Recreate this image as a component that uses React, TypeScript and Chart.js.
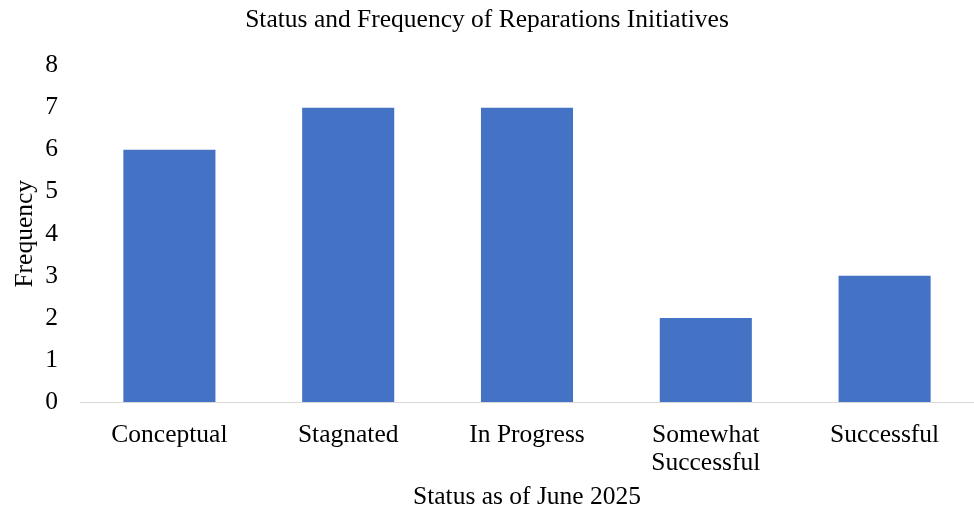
import React, { useEffect, useRef } from "react";
import { Chart, registerables } from "chart.js";

Chart.register(...registerables);

const categories: (string | string[])[] = [
  "Conceptual",
  "Stagnated",
  "In Progress",
  ["Somewhat", "Successful"],
  "Successful",
];
const frequency: number[] = [6, 7, 7, 2, 3];
const yMin = 0;
const yMax = 8;

const FONT = "'Liberation Serif', 'Times New Roman', serif";

export default function App() {
  const canvasRef = useRef<HTMLCanvasElement | null>(null);

  useEffect(() => {
    document.body.style.margin = "0";
    const canvas = canvasRef.current;
    if (!canvas) return;
    const chart = new Chart(canvas, {
      type: "bar",
      data: {
        labels: categories,
        datasets: [
          {
            label: "Frequency",
            data: frequency,
            backgroundColor: "#4472C4",
            borderWidth: 0,
            categoryPercentage: 1,
            barPercentage: 0.515,
          },
        ],
      },
      options: {
        responsive: false,
        animation: false,
        devicePixelRatio: 1,
        layout: { padding: { left: 0, right: 0, top: 0, bottom: 0 } },
        plugins: {
          legend: { display: false },
          tooltip: { enabled: false },
          title: {
            display: true,
            text: "Status and Frequency of Reparations Initiatives",
            color: "#000",
            font: { family: FONT, size: 25.5, weight: "normal", lineHeight: 1.2 },
            padding: { top: 5, bottom: 30 },
          },
        },
        scales: {
          x: {
            grid: { display: false },
            border: { display: true, color: "#d9d9d9", width: 1 },
            ticks: {
              color: "#000",
              font: { family: FONT, size: 25.5, lineHeight: 1.1 },
              padding: 11,
              maxRotation: 0,
              autoSkip: false,
            },
            title: {
              display: true,
              text: "Status as of June 2025",
              color: "#000",
              font: { family: FONT, size: 25.5, lineHeight: 1.1 },
              padding: { top: 0, bottom: 0 },
            },
            afterFit: (s: any) => {
              s.height = 109;
            },
          },
          y: {
            min: yMin,
            max: yMax,
            grid: { display: false },
            border: { display: false },
            ticks: {
              stepSize: 1,
              color: "#000",
              font: { family: FONT, size: 25.5 },
              padding: 14,
            },
            title: {
              display: true,
              text: "Frequency",
              color: "#000",
              font: { family: FONT, size: 25.5, lineHeight: 1.2 },
              padding: { top: 10, bottom: 0 },
            },
            afterFit: (s: any) => {
              s.width = 80;
            },
          },
        },
      },
    });
    return () => chart.destroy();
  }, []);

  return (
    <div style={{ width: 974, height: 511, background: "#fff" }}>
      <canvas ref={canvasRef} width={974} height={511} />
    </div>
  );
}
